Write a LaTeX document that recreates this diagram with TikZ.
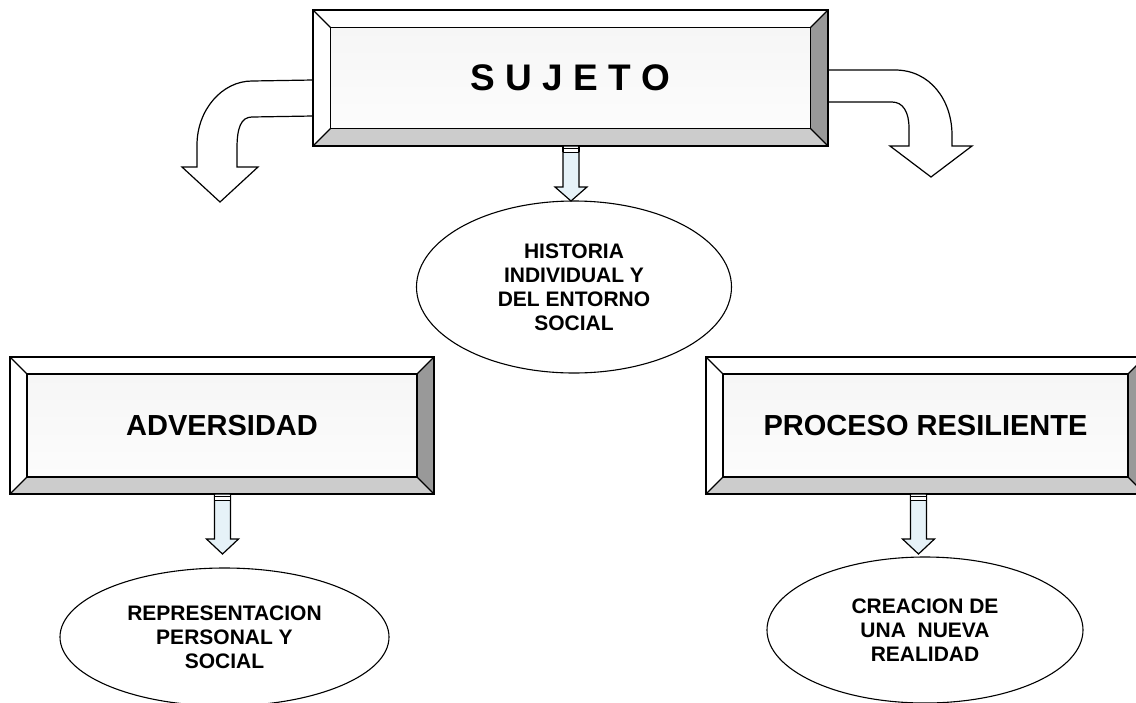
\documentclass[tikz,border=0pt]{standalone}
\usepackage{fontspec}
\setmainfont{Liberation Sans}
\usetikzlibrary{calc,shapes.geometric}
\definecolor{arrblue}{RGB}{230,242,248}
\definecolor{bevdark}{RGB}{153,153,153}
\definecolor{bevlight}{RGB}{204,204,204}
\definecolor{facetop}{RGB}{246,246,246}
\definecolor{facemid}{RGB}{232,232,232}
\definecolor{facebot}{RGB}{252,252,252}
\tikzset{
  boxshape/.style={rectangle, inner sep=0pt, outer sep=0pt},
  boxtext/.style={inner sep=0pt, font=\fontsize{29}{32}\selectfont\bfseries},
  boxline/.style={line width=1.5pt, black, line join=miter},
  ellnode/.style={ellipse, draw, line width=1.1pt, fill=white, inner sep=0pt, outer sep=0pt, align=center, font=\fontsize{21}{24}\selectfont\bfseries},
  arrline/.style={line width=1.2pt, black, line join=miter},
  curvearr/.style={line width=1.2pt, black, fill=white, line join=miter}
}
\newcommand\bevbox[2]{%
  \coordinate (onw) at (#1.north west);
  \coordinate (one) at (#1.north east);
  \coordinate (ose) at (#1.south east);
  \coordinate (osw) at (#1.south west);
  \coordinate (inw) at ($(#1.north west)+(#2,#2)$);
  \coordinate (ine) at ($(#1.north east)+(-#2,#2)$);
  \coordinate (ise) at ($(#1.south east)+(-#2,-#2)$);
  \coordinate (isw) at ($(#1.south west)+(#2,-#2)$);
  \shade[top color=facetop, middle color=facemid, bottom color=facebot] (inw) rectangle (ise);
  \fill[white] (onw) -- (one) -- (ine) -- (inw) -- cycle;
  \fill[white] (onw) -- (inw) -- (isw) -- (osw) -- cycle;
  \fill[bevlight] (osw) -- (isw) -- (ise) -- (ose) -- cycle;
  \fill[bevdark] (one) -- (ose) -- (ise) -- (ine) -- cycle;
  \draw[boxline] (onw) rectangle (ose);
  \draw[boxline] (inw) rectangle (ise);
  \draw[line width=1.1pt] (onw) -- (inw) (one) -- (ine) (ose) -- (ise) (osw) -- (isw);
}
\newcommand\blkarr[3]{%
  \begin{scope}[shift={(#1)}]
    \draw[arrline, fill=arrblue] (-8,0) -- (-8,#2) -- (-16,#2) -- (0,#3) -- (16,#2) -- (8,#2) -- (8,0) -- cycle;
    \fill[white] (-8,0.6) rectangle (8,6);
    \draw[line width=0.9pt] (-8,2.5) -- (8,2.5) (-8,6) -- (8,6);
    \draw[arrline] (-8,0) -- (-8,6) (8,0) -- (8,6);
  \end{scope}}
\begin{document}
\begin{tikzpicture}[x=1pt,y=-1pt]
\useasboundingbox (0,0) rectangle (1136,702);
\clip (0,0) rectangle (1136,702);

% box nodes (shapes)
\node[boxshape, minimum width=515pt, minimum height=136pt] (sujeto) at (570.5,78) {};
\node[boxshape, minimum width=424pt, minimum height=137pt] (adversidad) at (222,425.5) {};
\node[boxshape, minimum width=439pt, minimum height=137pt] (proceso) at (925.5,425.5) {};

% curved arrows from SUJETO
\begin{scope}[shift={(sujeto.north west)}]
  \coordinate (lcurve) at (0,70);
  \draw[curvearr] (lcurve) -- (-61,71) .. controls (-91,71) and (-116,100) .. (-116,135)
    -- (-116,157) -- (-131,157) -- (-93,192) -- (-55,157) -- (-76,157) -- (-76,138)
    .. controls (-76,118) and (-72,107) .. (-61,107) -- (0,106) -- cycle;
\end{scope}
\begin{scope}[shift={(sujeto.north east)}]
  \coordinate (rcurve) at (0,60);
  \draw[curvearr] (rcurve) -- (67,60) .. controls (102,60) and (124,90) .. (124,125)
    -- (124,136) -- (144,136) -- (103,167) -- (62,136) -- (81,136) -- (81,118)
    .. controls (81,102) and (75,92) .. (64,92) -- (0,92) -- cycle;
\end{scope}

% bevelled boxes
\bevbox{sujeto}{17.5}
\bevbox{adversidad}{17}
\bevbox{proceso}{17}

\node[boxtext, font=\fontsize{37}{40}\selectfont\bfseries] (sujetotxt) at (sujeto) {S U J E T O};
\node[boxtext] (adversidadtxt) at (adversidad) {ADVERSIDAD};
\node[boxtext] (procesotxt) at (proceso) {PROCESO RESILIENTE};

% ellipses
\node[ellnode, minimum width=315pt, minimum height=172pt] (historia) at (574,287)
  {HISTORIA\\INDIVIDUAL Y\\DEL ENTORNO\\SOCIAL};
\node[ellnode, minimum width=329pt, minimum height=138pt] (represent) at (224.5,637)
  {REPRESENTACION\\PERSONAL Y\\SOCIAL};
\node[ellnode, minimum width=316pt, minimum height=146pt] (creacion) at (925,630)
  {CREACION DE\\UNA\ \ NUEVA\\REALIDAD};

% straight block arrows
\coordinate (asuj) at ($(sujeto.south)+(0.5,0)$);
\coordinate (aadv) at ($(adversidad.south)+(0.5,0)$);
\coordinate (apro) at ($(proceso.south)+(-7,0)$);
\blkarr{asuj}{41}{55}
\blkarr{aadv}{45}{60}
\blkarr{apro}{45}{60}
\end{tikzpicture}
\end{document}
